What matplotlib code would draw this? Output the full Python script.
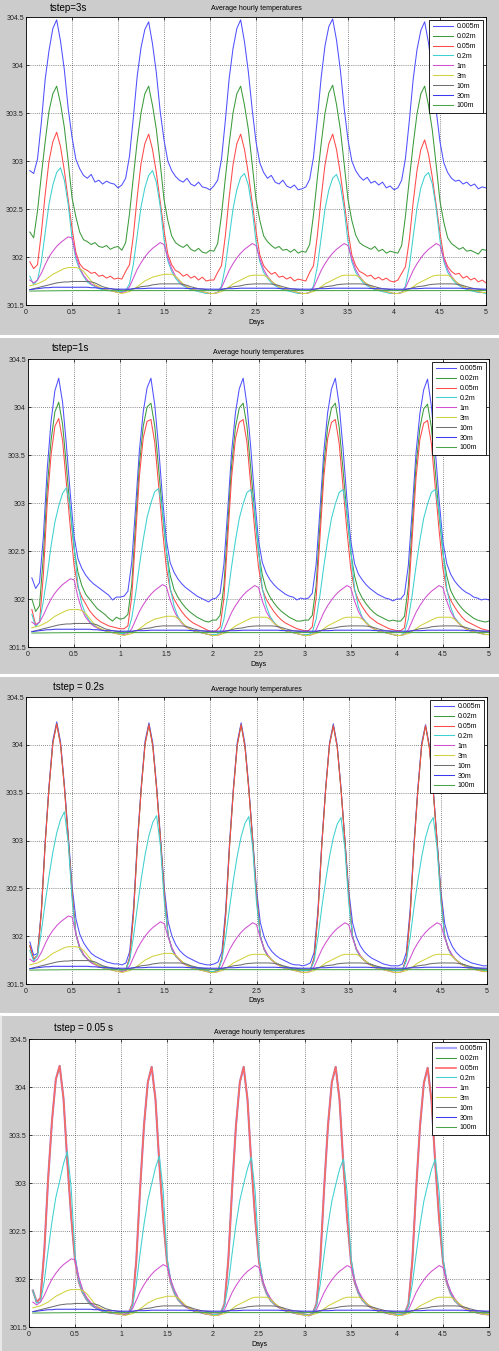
import numpy as np
import matplotlib
matplotlib.use("Agg")
import matplotlib.pyplot as plt
from matplotlib.lines import Line2D

# ===========================================
# DATA  (hourly averages, 5 days -> 120 samples, x = hour / 24)
# ===========================================
HOURS = np.arange(1, 121) / 24.0
DEPTHS = ["0.005m", "0.02m", "0.05m", "0.2m", "1m", "3m", "10m", "30m", "100m"]
X_TICKS = [0, 0.5, 1, 1.5, 2, 2.5, 3, 3.5, 4, 4.5, 5]
X_TICK_LABELS = ["0", "0.5", "1", "1.5", "2", "2.5", "3", "3.5", "4", "4.5", "5"]
Y_TICKS = [301.5, 302, 302.5, 303, 303.5, 304, 304.5]
Y_TICK_LABELS = ["301.5", "302", "302.5", "303", "303.5", "304", "304.5"]
STEP_LABELS = ["tstep=3s", "tstep=1s", "tstep = 0.2s", "tstep = 0.05 s"]
TITLE = "Average hourly temperatures"
X_LABEL = "Days"

# --- tstep = 3 s ---
T3S_D005 = [
    302.90, 302.87, 303.02, 303.40, 303.85, 304.15, 304.38, 304.47, 304.25, 303.95, 303.55, 303.25, 303.02, 302.92, 302.85, 302.82, 302.86, 302.78, 302.80, 302.76, 302.79, 302.77, 302.76, 302.72,
    302.75, 302.82, 303.05, 303.45, 303.88, 304.18, 304.37, 304.45, 304.22, 303.92, 303.52, 303.22, 303.00, 302.90, 302.84, 302.80, 302.78, 302.82, 302.76, 302.74, 302.78, 302.73, 302.72, 302.70,
    302.74, 302.80, 303.02, 303.42, 303.86, 304.17, 304.38, 304.47, 304.24, 303.93, 303.54, 303.20, 302.98, 302.88, 302.82, 302.85, 302.78, 302.76, 302.80, 302.74, 302.72, 302.75, 302.70, 302.71,
    302.73, 302.81, 303.04, 303.44, 303.87, 304.20, 304.40, 304.48, 304.26, 303.95, 303.55, 303.22, 303.00, 302.90, 302.84, 302.80, 302.83, 302.77, 302.79, 302.75, 302.78, 302.72, 302.74, 302.70,
    302.72, 302.80, 303.03, 303.42, 303.85, 304.16, 304.36, 304.45, 304.23, 303.93, 303.53, 303.20, 302.98, 302.88, 302.82, 302.79, 302.80, 302.76, 302.78, 302.74, 302.76, 302.71, 302.73, 302.72,
]
T3S_D02 = [
    302.26, 302.20, 302.48, 302.85, 303.20, 303.52, 303.70, 303.78, 303.60, 303.35, 303.00, 302.62, 302.42, 302.26, 302.18, 302.16, 302.13, 302.15, 302.11, 302.10, 302.12, 302.08, 302.10, 302.11,
    302.07, 302.15, 302.45, 302.83, 303.20, 303.50, 303.70, 303.78, 303.58, 303.33, 302.98, 302.60, 302.38, 302.22, 302.15, 302.12, 302.10, 302.13, 302.08, 302.06, 302.09, 302.05, 302.04, 302.07,
    302.06, 302.14, 302.44, 302.82, 303.18, 303.50, 303.70, 303.78, 303.58, 303.33, 302.97, 302.60, 302.38, 302.22, 302.16, 302.12, 302.09, 302.11, 302.07, 302.08, 302.05, 302.08, 302.04, 302.06,
    302.05, 302.13, 302.44, 302.82, 303.18, 303.50, 303.71, 303.79, 303.59, 303.33, 302.97, 302.60, 302.38, 302.23, 302.15, 302.12, 302.10, 302.08, 302.11, 302.06, 302.08, 302.04, 302.06, 302.05,
    302.04, 302.12, 302.43, 302.81, 303.17, 303.49, 303.70, 303.78, 303.58, 303.32, 302.96, 302.58, 302.36, 302.20, 302.14, 302.11, 302.08, 302.10, 302.06, 302.07, 302.05, 302.03, 302.08, 302.07,
]
T3S_D05 = [
    301.95, 301.88, 301.92, 302.25, 302.65, 303.00, 303.20, 303.30, 303.15, 302.90, 302.60, 302.30, 302.05, 301.93, 301.88, 301.86, 301.83, 301.84, 301.80, 301.81, 301.78, 301.80, 301.77, 301.78,
    301.77, 301.85, 301.92, 302.22, 302.62, 302.97, 303.18, 303.28, 303.12, 302.88, 302.58, 302.28, 302.03, 301.92, 301.86, 301.84, 301.80, 301.82, 301.78, 301.80, 301.76, 301.79, 301.75, 301.76,
    301.76, 301.84, 301.91, 302.22, 302.62, 302.96, 303.18, 303.28, 303.12, 302.87, 302.57, 302.27, 302.02, 301.91, 301.86, 301.82, 301.84, 301.79, 301.80, 301.77, 301.79, 301.75, 301.77, 301.76,
    301.75, 301.84, 301.91, 302.22, 302.62, 302.96, 303.18, 303.28, 303.12, 302.87, 302.57, 302.27, 302.02, 301.91, 301.85, 301.83, 301.80, 301.81, 301.77, 301.79, 301.76, 301.78, 301.75, 301.74,
    301.76, 301.83, 301.90, 302.18, 302.57, 302.90, 303.12, 303.22, 303.07, 302.83, 302.54, 302.25, 302.00, 301.90, 301.85, 301.82, 301.83, 301.78, 301.80, 301.76, 301.78, 301.74, 301.76, 301.73,
]
T3S_D2 = [
    301.80, 301.71, 301.76, 301.95, 302.25, 302.55, 302.75, 302.88, 302.93, 302.80, 302.55, 302.20, 301.98, 301.87, 301.80, 301.74, 301.71, 301.69, 301.67, 301.66, 301.65, 301.65, 301.64, 301.64,
    301.64, 301.65, 301.72, 301.92, 302.22, 302.52, 302.72, 302.85, 302.90, 302.78, 302.53, 302.18, 301.96, 301.85, 301.78, 301.73, 301.70, 301.68, 301.66, 301.65, 301.64, 301.63, 301.62, 301.62,
    301.62, 301.63, 301.70, 301.90, 302.20, 302.50, 302.70, 302.83, 302.87, 302.75, 302.50, 302.16, 301.95, 301.84, 301.78, 301.73, 301.70, 301.68, 301.66, 301.65, 301.64, 301.63, 301.62, 301.62,
    301.62, 301.63, 301.70, 301.90, 302.20, 302.50, 302.70, 302.82, 302.86, 302.75, 302.50, 302.16, 301.95, 301.84, 301.78, 301.73, 301.70, 301.68, 301.66, 301.65, 301.64, 301.63, 301.62, 301.62,
    301.62, 301.63, 301.70, 301.90, 302.21, 302.51, 302.72, 302.84, 302.88, 302.76, 302.51, 302.17, 301.95, 301.84, 301.78, 301.73, 301.70, 301.68, 301.66, 301.65, 301.64, 301.63, 301.63, 301.62,
]

# --- tstep = 1 s ---
T1S_D005 = [
    302.22, 302.11, 302.17, 302.65, 303.35, 303.85, 304.17, 304.30, 304.05, 303.60, 303.10, 302.65, 302.42, 302.32, 302.25, 302.20, 302.16, 302.13, 302.10, 302.07, 302.04, 301.99, 302.02, 302.02,
    302.03, 302.08, 302.38, 302.95, 303.55, 303.95, 304.20, 304.30, 304.02, 303.58, 303.06, 302.62, 302.38, 302.28, 302.21, 302.16, 302.12, 302.09, 302.06, 302.03, 302.01, 301.99, 301.97, 302.00,
    302.01, 302.06, 302.36, 302.93, 303.53, 303.94, 304.19, 304.30, 304.02, 303.57, 303.05, 302.61, 302.38, 302.27, 302.20, 302.15, 302.11, 302.08, 302.05, 302.03, 302.02, 301.99, 302.01, 302.00,
    302.01, 302.06, 302.36, 302.93, 303.53, 303.94, 304.19, 304.30, 304.02, 303.57, 303.05, 302.61, 302.37, 302.26, 302.20, 302.15, 302.11, 302.08, 302.05, 302.03, 302.01, 302.00, 301.98, 302.00,
    302.00, 302.05, 302.35, 302.92, 303.52, 303.93, 304.18, 304.29, 304.01, 303.56, 303.04, 302.60, 302.37, 302.26, 302.19, 302.14, 302.10, 302.07, 302.05, 302.02, 302.01, 301.99, 302.00, 301.99,
]
T1S_D02 = [
    302.00, 301.87, 301.93, 302.45, 303.15, 303.65, 303.95, 304.05, 303.82, 303.38, 302.92, 302.52, 302.28, 302.14, 302.05, 302.00, 301.95, 301.90, 301.87, 301.84, 301.80, 301.77, 301.81, 301.79,
    301.80, 301.84, 302.15, 302.78, 303.40, 303.80, 304.00, 304.04, 303.80, 303.36, 302.90, 302.50, 302.25, 302.10, 302.02, 301.96, 301.91, 301.87, 301.84, 301.81, 301.79, 301.77, 301.76, 301.78,
    301.78, 301.83, 302.14, 302.77, 303.39, 303.79, 303.99, 304.04, 303.80, 303.35, 302.89, 302.49, 302.25, 302.10, 302.02, 301.96, 301.91, 301.87, 301.84, 301.81, 301.79, 301.77, 301.77, 301.78,
    301.78, 301.83, 302.14, 302.77, 303.39, 303.79, 303.99, 304.04, 303.79, 303.35, 302.89, 302.49, 302.24, 302.09, 302.01, 301.95, 301.90, 301.86, 301.83, 301.81, 301.79, 301.77, 301.78, 301.77,
    301.77, 301.82, 302.13, 302.76, 303.38, 303.78, 303.98, 304.03, 303.79, 303.34, 302.88, 302.48, 302.24, 302.09, 302.01, 301.95, 301.90, 301.86, 301.83, 301.80, 301.78, 301.77, 301.76, 301.77,
]
T1S_D05 = [
    301.89, 301.73, 301.76, 302.25, 303.00, 303.50, 303.80, 303.88, 303.65, 303.20, 302.75, 302.35, 302.12, 302.02, 301.95, 301.88, 301.83, 301.79, 301.76, 301.74, 301.72, 301.71, 301.70, 301.69,
    301.69, 301.72, 302.02, 302.65, 303.28, 303.68, 303.85, 303.87, 303.63, 303.18, 302.73, 302.33, 302.10, 302.00, 301.93, 301.87, 301.82, 301.78, 301.75, 301.73, 301.71, 301.69, 301.67, 301.66,
    301.67, 301.71, 302.01, 302.64, 303.27, 303.67, 303.84, 303.87, 303.63, 303.18, 302.73, 302.33, 302.10, 302.00, 301.93, 301.87, 301.82, 301.78, 301.75, 301.73, 301.71, 301.69, 301.68, 301.67,
    301.67, 301.71, 302.01, 302.64, 303.27, 303.67, 303.84, 303.87, 303.62, 303.17, 302.72, 302.32, 302.09, 301.99, 301.92, 301.86, 301.81, 301.78, 301.75, 301.73, 301.71, 301.69, 301.68, 301.67,
    301.67, 301.70, 302.00, 302.63, 303.26, 303.66, 303.83, 303.86, 303.62, 303.17, 302.72, 302.32, 302.09, 301.99, 301.92, 301.86, 301.81, 301.77, 301.75, 301.73, 301.71, 301.69, 301.68, 301.67,
]
T1S_D2 = [
    301.84, 301.71, 301.76, 301.98, 302.25, 302.55, 302.80, 302.97, 303.10, 303.16, 302.95, 302.55, 302.15, 301.95, 301.84, 301.77, 301.73, 301.70, 301.68, 301.67, 301.66, 301.65, 301.645, 301.64,
    301.64, 301.66, 301.80, 302.05, 302.35, 302.62, 302.85, 303.00, 303.12, 303.15, 302.93, 302.52, 302.12, 301.93, 301.82, 301.76, 301.72, 301.69, 301.67, 301.66, 301.65, 301.64, 301.63, 301.63,
    301.63, 301.65, 301.79, 302.04, 302.34, 302.61, 302.84, 302.99, 303.11, 303.14, 302.92, 302.51, 302.11, 301.93, 301.82, 301.76, 301.72, 301.69, 301.67, 301.66, 301.65, 301.64, 301.63, 301.63,
    301.63, 301.65, 301.79, 302.04, 302.34, 302.61, 302.84, 302.99, 303.11, 303.14, 302.92, 302.51, 302.11, 301.92, 301.81, 301.76, 301.72, 301.69, 301.67, 301.66, 301.65, 301.64, 301.63, 301.62,
    301.62, 301.65, 301.79, 302.04, 302.34, 302.61, 302.84, 302.99, 303.11, 303.14, 302.92, 302.51, 302.11, 301.92, 301.81, 301.76, 301.72, 301.69, 301.67, 301.66, 301.65, 301.64, 301.63, 301.63,
]

# --- tstep = 0.2 s  (0.02m and 0.05m lie on top of each other) ---
T02S_D005 = [
    301.94, 301.80, 301.82, 302.28, 303.00, 303.58, 304.05, 304.24, 304.03, 303.58, 303.06, 302.52, 302.18, 302.02, 301.93, 301.87, 301.82, 301.79, 301.77, 301.75, 301.73, 301.72, 301.71, 301.71,
    301.70, 301.72, 301.84, 302.30, 303.00, 303.57, 304.04, 304.23, 304.02, 303.57, 303.04, 302.50, 302.15, 302.00, 301.91, 301.85, 301.81, 301.78, 301.76, 301.74, 301.72, 301.71, 301.70, 301.70,
    301.71, 301.73, 301.84, 302.29, 302.99, 303.56, 304.03, 304.23, 304.01, 303.56, 303.03, 302.49, 302.14, 301.99, 301.90, 301.84, 301.80, 301.77, 301.75, 301.73, 301.71, 301.70, 301.70, 301.69,
    301.70, 301.72, 301.83, 302.28, 302.98, 303.55, 304.02, 304.22, 304.00, 303.55, 303.02, 302.48, 302.14, 301.99, 301.90, 301.84, 301.80, 301.77, 301.75, 301.73, 301.71, 301.70, 301.69, 301.69,
    301.69, 301.71, 301.83, 302.28, 302.98, 303.55, 304.02, 304.21, 303.99, 303.54, 303.01, 302.47, 302.13, 301.98, 301.89, 301.83, 301.79, 301.76, 301.74, 301.72, 301.71, 301.70, 301.69, 301.69,
]
T02S_SURF = [
    301.90, 301.76, 301.80, 302.25, 302.97, 303.55, 304.02, 304.22, 304.00, 303.55, 303.02, 302.45, 302.02, 301.87, 301.80, 301.76, 301.73, 301.71, 301.69, 301.68, 301.67, 301.66, 301.655, 301.65,
    301.645, 301.65, 301.78, 302.24, 302.96, 303.54, 304.01, 304.21, 303.99, 303.54, 303.01, 302.44, 302.01, 301.86, 301.79, 301.75, 301.72, 301.70, 301.68, 301.67, 301.66, 301.65, 301.64, 301.63,
    301.63, 301.645, 301.77, 302.23, 302.95, 303.53, 304.00, 304.21, 303.98, 303.53, 303.00, 302.43, 302.00, 301.86, 301.79, 301.75, 301.72, 301.70, 301.68, 301.67, 301.66, 301.65, 301.645, 301.64,
    301.64, 301.645, 301.77, 302.23, 302.95, 303.53, 304.00, 304.20, 303.98, 303.53, 303.00, 302.43, 302.00, 301.86, 301.79, 301.75, 301.72, 301.70, 301.68, 301.67, 301.66, 301.65, 301.645, 301.64,
    301.64, 301.645, 301.77, 302.22, 302.94, 303.52, 303.99, 304.20, 303.97, 303.52, 302.99, 302.42, 302.00, 301.86, 301.79, 301.75, 301.72, 301.70, 301.68, 301.67, 301.66, 301.65, 301.645, 301.64,
]
T02S_D2 = [
    301.85, 301.74, 301.80, 302.05, 302.35, 302.63, 302.88, 303.08, 303.22, 303.30, 302.97, 302.38, 302.02, 301.87, 301.80, 301.76, 301.73, 301.71, 301.69, 301.68, 301.67, 301.66, 301.655, 301.65,
    301.645, 301.65, 301.75, 302.00, 302.31, 302.60, 302.85, 303.05, 303.19, 303.26, 302.94, 302.36, 302.01, 301.86, 301.79, 301.75, 301.72, 301.70, 301.68, 301.67, 301.66, 301.65, 301.64, 301.63,
    301.63, 301.645, 301.75, 302.00, 302.30, 302.59, 302.84, 303.04, 303.18, 303.25, 302.93, 302.35, 302.00, 301.86, 301.79, 301.75, 301.72, 301.70, 301.68, 301.67, 301.66, 301.65, 301.645, 301.64,
    301.64, 301.645, 301.74, 301.99, 302.30, 302.58, 302.83, 303.03, 303.17, 303.24, 302.92, 302.35, 302.00, 301.86, 301.79, 301.75, 301.72, 301.70, 301.68, 301.67, 301.66, 301.65, 301.645, 301.64,
    301.64, 301.645, 301.74, 301.99, 302.30, 302.58, 302.83, 303.03, 303.17, 303.24, 302.92, 302.35, 302.00, 301.86, 301.79, 301.75, 301.72, 301.70, 301.68, 301.67, 301.66, 301.65, 301.645, 301.64,
]

# --- tstep = 0.05 s  (0.005m, 0.02m and 0.05m lie on top of each other) ---
T005S_SURF = [
    301.88, 301.76, 301.80, 302.30, 303.05, 303.65, 304.08, 304.22, 303.88, 303.22, 302.65, 302.20, 301.97, 301.86, 301.79, 301.74, 301.71, 301.69, 301.67, 301.66, 301.65, 301.645, 301.64, 301.635,
    301.63, 301.64, 301.74, 302.20, 302.95, 303.60, 304.05, 304.21, 303.87, 303.20, 302.63, 302.18, 301.96, 301.85, 301.78, 301.74, 301.71, 301.69, 301.67, 301.66, 301.65, 301.64, 301.635, 301.63,
    301.63, 301.64, 301.74, 302.20, 302.95, 303.60, 304.05, 304.21, 303.87, 303.20, 302.63, 302.18, 301.96, 301.85, 301.78, 301.74, 301.71, 301.69, 301.67, 301.66, 301.65, 301.64, 301.635, 301.63,
    301.62, 301.64, 301.74, 302.20, 302.95, 303.60, 304.05, 304.21, 303.87, 303.20, 302.63, 302.18, 301.96, 301.85, 301.78, 301.74, 301.71, 301.69, 301.67, 301.66, 301.65, 301.64, 301.635, 301.63,
    301.63, 301.64, 301.74, 302.19, 302.94, 303.59, 304.04, 304.20, 303.86, 303.19, 302.62, 302.18, 301.96, 301.85, 301.78, 301.74, 301.71, 301.69, 301.67, 301.66, 301.65, 301.64, 301.635, 301.63,
]
T005S_D2 = [
    301.88, 301.75, 301.76, 301.98, 302.30, 302.60, 302.85, 303.02, 303.20, 303.33, 302.95, 302.25, 301.98, 301.86, 301.79, 301.74, 301.71, 301.69, 301.67, 301.66, 301.65, 301.645, 301.64, 301.635,
    301.63, 301.64, 301.72, 301.95, 302.27, 302.57, 302.82, 302.99, 303.16, 303.28, 302.92, 302.23, 301.97, 301.85, 301.78, 301.74, 301.71, 301.69, 301.67, 301.66, 301.65, 301.64, 301.635, 301.63,
    301.63, 301.64, 301.72, 301.95, 302.27, 302.57, 302.82, 302.99, 303.15, 303.27, 302.91, 302.23, 301.97, 301.85, 301.78, 301.74, 301.71, 301.69, 301.67, 301.66, 301.65, 301.64, 301.635, 301.63,
    301.62, 301.64, 301.72, 301.95, 302.26, 302.56, 302.81, 302.98, 303.14, 303.25, 302.90, 302.22, 301.97, 301.85, 301.78, 301.74, 301.71, 301.69, 301.67, 301.66, 301.65, 301.64, 301.635, 301.63,
    301.63, 301.64, 301.72, 301.95, 302.26, 302.56, 302.81, 302.98, 303.14, 303.25, 302.90, 302.22, 301.97, 301.85, 301.78, 301.74, 301.71, 301.69, 301.67, 301.66, 301.65, 301.64, 301.635, 301.63,
]

# --- deeper layers, practically the same in every run ---
D1M = [
    301.76, 301.73, 301.76, 301.83, 301.92, 302.00, 302.06, 302.11, 302.15, 302.18, 302.21, 302.20, 302.02, 301.89, 301.81, 301.76, 301.72, 301.70, 301.68, 301.67, 301.66, 301.65, 301.64, 301.63,
    301.63, 301.64, 301.69, 301.78, 301.87, 301.94, 302.00, 302.05, 302.09, 302.12, 302.15, 302.13, 301.99, 301.88, 301.80, 301.75, 301.71, 301.69, 301.67, 301.66, 301.65, 301.64, 301.63, 301.62,
    301.62, 301.63, 301.68, 301.77, 301.86, 301.93, 301.99, 302.04, 302.08, 302.11, 302.14, 302.12, 301.98, 301.87, 301.80, 301.75, 301.71, 301.69, 301.67, 301.66, 301.65, 301.64, 301.63, 301.62,
    301.62, 301.63, 301.68, 301.77, 301.86, 301.93, 301.99, 302.04, 302.08, 302.11, 302.14, 302.12, 301.98, 301.87, 301.80, 301.75, 301.71, 301.69, 301.67, 301.66, 301.65, 301.64, 301.63, 301.62,
    301.62, 301.63, 301.68, 301.77, 301.86, 301.93, 301.99, 302.04, 302.08, 302.11, 302.14, 302.12, 301.98, 301.87, 301.80, 301.75, 301.71, 301.69, 301.67, 301.66, 301.65, 301.64, 301.63, 301.63,
]
D3M = [
    301.70, 301.71, 301.72, 301.74, 301.76, 301.79, 301.82, 301.84, 301.86, 301.88, 301.89, 301.89, 301.89, 301.88, 301.85, 301.80, 301.75, 301.71, 301.69, 301.67, 301.66, 301.65, 301.64, 301.63,
    301.62, 301.63, 301.64, 301.66, 301.69, 301.72, 301.75, 301.77, 301.79, 301.80, 301.81, 301.82, 301.82, 301.82, 301.80, 301.76, 301.72, 301.69, 301.67, 301.66, 301.65, 301.64, 301.63, 301.62,
    301.62, 301.63, 301.64, 301.66, 301.69, 301.72, 301.74, 301.76, 301.78, 301.80, 301.81, 301.81, 301.81, 301.81, 301.79, 301.75, 301.72, 301.69, 301.67, 301.66, 301.65, 301.64, 301.63, 301.62,
    301.62, 301.63, 301.64, 301.66, 301.69, 301.72, 301.74, 301.76, 301.78, 301.80, 301.81, 301.81, 301.81, 301.81, 301.79, 301.75, 301.72, 301.69, 301.67, 301.66, 301.65, 301.64, 301.63, 301.62,
    301.62, 301.63, 301.64, 301.66, 301.69, 301.72, 301.74, 301.76, 301.78, 301.80, 301.81, 301.81, 301.81, 301.81, 301.79, 301.75, 301.72, 301.69, 301.67, 301.66, 301.65, 301.64, 301.63, 301.63,
]
D10M = [
    301.660, 301.670, 301.680, 301.690, 301.700, 301.710, 301.720, 301.730, 301.735, 301.740, 301.740, 301.745, 301.745, 301.745, 301.745, 301.745, 301.740, 301.730, 301.710, 301.690, 301.680, 301.670, 301.665, 301.660,
    301.655, 301.655, 301.660, 301.670, 301.680, 301.690, 301.695, 301.700, 301.710, 301.715, 301.720, 301.720, 301.720, 301.720, 301.720, 301.720, 301.715, 301.705, 301.690, 301.680, 301.670, 301.665, 301.660, 301.655,
    301.655, 301.655, 301.660, 301.670, 301.680, 301.690, 301.695, 301.700, 301.710, 301.715, 301.718, 301.720, 301.720, 301.720, 301.720, 301.718, 301.713, 301.703, 301.690, 301.680, 301.670, 301.665, 301.660, 301.655,
    301.655, 301.655, 301.660, 301.670, 301.680, 301.690, 301.695, 301.700, 301.710, 301.715, 301.718, 301.720, 301.720, 301.720, 301.720, 301.718, 301.713, 301.703, 301.690, 301.680, 301.670, 301.665, 301.660, 301.655,
    301.655, 301.655, 301.660, 301.670, 301.680, 301.690, 301.695, 301.700, 301.710, 301.715, 301.718, 301.720, 301.720, 301.720, 301.720, 301.718, 301.713, 301.703, 301.690, 301.680, 301.670, 301.665, 301.660, 301.655,
]
D30M = [
    301.660, 301.665, 301.670, 301.675, 301.680, 301.680, 301.685, 301.685, 301.685, 301.685, 301.685, 301.685, 301.685, 301.685, 301.685, 301.685, 301.680, 301.680, 301.675, 301.670, 301.670, 301.670, 301.665, 301.665,
    301.665, 301.665, 301.665, 301.670, 301.670, 301.670, 301.672, 301.675, 301.675, 301.675, 301.675, 301.675, 301.675, 301.675, 301.675, 301.675, 301.675, 301.672, 301.670, 301.670, 301.668, 301.667, 301.666, 301.665,
    301.665, 301.665, 301.665, 301.670, 301.670, 301.670, 301.672, 301.675, 301.675, 301.675, 301.675, 301.675, 301.675, 301.675, 301.675, 301.675, 301.675, 301.672, 301.670, 301.670, 301.668, 301.667, 301.666, 301.665,
    301.665, 301.665, 301.665, 301.670, 301.670, 301.670, 301.672, 301.675, 301.675, 301.675, 301.675, 301.675, 301.675, 301.675, 301.675, 301.675, 301.675, 301.672, 301.670, 301.670, 301.668, 301.667, 301.666, 301.665,
    301.665, 301.665, 301.665, 301.670, 301.670, 301.670, 301.672, 301.675, 301.675, 301.675, 301.675, 301.675, 301.675, 301.675, 301.675, 301.675, 301.675, 301.672, 301.670, 301.670, 301.668, 301.667, 301.666, 301.665,
]
D100M = [
    301.645, 301.646, 301.646, 301.647, 301.647, 301.648, 301.648, 301.648, 301.649, 301.649, 301.649, 301.650, 301.650, 301.650, 301.650, 301.650, 301.650, 301.650, 301.650, 301.650, 301.650, 301.650, 301.650, 301.650,
    301.650, 301.650, 301.650, 301.650, 301.650, 301.650, 301.650, 301.650, 301.650, 301.650, 301.650, 301.650, 301.650, 301.650, 301.650, 301.650, 301.650, 301.650, 301.650, 301.650, 301.650, 301.650, 301.650, 301.650,
    301.650, 301.650, 301.650, 301.650, 301.650, 301.650, 301.650, 301.650, 301.650, 301.650, 301.650, 301.650, 301.650, 301.650, 301.650, 301.650, 301.650, 301.650, 301.650, 301.650, 301.650, 301.650, 301.650, 301.650,
    301.650, 301.650, 301.650, 301.650, 301.650, 301.650, 301.650, 301.650, 301.650, 301.650, 301.650, 301.650, 301.650, 301.650, 301.650, 301.650, 301.650, 301.650, 301.650, 301.650, 301.650, 301.650, 301.650, 301.650,
    301.650, 301.650, 301.650, 301.650, 301.650, 301.650, 301.650, 301.650, 301.650, 301.650, 301.650, 301.650, 301.650, 301.650, 301.650, 301.650, 301.650, 301.650, 301.650, 301.650, 301.650, 301.650, 301.650, 301.650,
]

RUNS = [
    [T3S_D005, T3S_D02, T3S_D05, T3S_D2, D1M, D3M, D10M, D30M, D100M],
    [T1S_D005, T1S_D02, T1S_D05, T1S_D2, D1M, D3M, D10M, D30M, D100M],
    [T02S_D005, T02S_SURF, T02S_SURF, T02S_D2, D1M, D3M, D10M, D30M, D100M],
    [T005S_SURF, T005S_SURF, T005S_SURF, T005S_D2, D1M, D3M, D10M, D30M, D100M],
]

# ===========================================
# LAYOUT (pixel boxes of the 4 matlab windows: left, top, right, bottom)
# ===========================================
W, H = 499, 1351
AX_BOXES = [(26, 17, 486, 305), (28, 359, 489, 647), (26, 697, 487, 984), (29, 1039, 489, 1327)]
STEP_POS = [(50, 8), (52, 348), (53, 687), (54, 1028)]
TITLE_Y = [9, 352, 689, 1032]
SEPARATORS = [336, 675, 1014]

LINE_COLORS = ["#5050ff", "#3c9b3c", "#ff4a4a", "#3fd0d0", "#d050d0",
               "#d2d240", "#707070", "#3a3aee", "#4aa54a"]
FONT = "Liberation Sans"


def fx(px):
    return px / W


def fy(py):
    return 1 - py / H


def main():
    plt.rcParams["font.family"] = [FONT, "DejaVu Sans"]
    fig = plt.figure(figsize=(W / 100, H / 100), dpi=100, facecolor="#cccccc")

    # white gaps between the stacked screenshots
    for sy in SEPARATORS:
        fig.add_artist(Line2D([0, 1], [fy(sy), fy(sy)], color="white", lw=2.2))
    fig.add_artist(Line2D([fx(0.6), fx(0.6)], [fy(1016), 0], color="#eeeeee", lw=1.2))

    for i, (l, t, r, b) in enumerate(AX_BOXES):
        ax = fig.add_axes([fx(l), fy(b), (r - l) / W, (b - t) / H])
        ax.set_facecolor("white")

        widths = [0.75] * 9
        colors = list(LINE_COLORS)
        if i == 3:
            colors[0] = "#a8a8ff"
            widths[0] = 1.6
            colors[2] = "#ff6868"
            widths[2] = 1.2
        for series, lab, c, lw in zip(RUNS[i], DEPTHS, colors, widths):
            ax.plot(HOURS, series, color=c, lw=lw, label=lab)

        ax.set_xlim(0, 5)
        ax.set_ylim(301.5, 304.5)
        ax.set_xticks(X_TICKS)
        ax.set_xticklabels(X_TICK_LABELS)
        ax.set_yticks(Y_TICKS)
        ax.set_yticklabels(Y_TICK_LABELS)
        ax.tick_params(direction="in", length=2.5, width=0.5, labelsize=5,
                       top=True, right=True, pad=1.5, colors="black", labelcolor="#222222")
        ax.tick_params(axis="x", pad=2.6)
        ax.grid(True, color="#222222", lw=0.5, linestyle=(0, (1, 2)))
        for sp in ax.spines.values():
            sp.set_linewidth(0.6)

        leg = ax.legend(loc="upper right", bbox_to_anchor=(1 - 3 / (r - l), 1 - 3 / (b - t)),
                        borderaxespad=0, fontsize=5, handlelength=3.0, handletextpad=0.45,
                        labelspacing=0.42, borderpad=0.45, fancybox=False, framealpha=1)
        leg.get_frame().set_edgecolor("black")
        leg.get_frame().set_linewidth(0.6)

        # texts
        fig.text(fx(STEP_POS[i][0]), fy(STEP_POS[i][1]), STEP_LABELS[i],
                 fontsize=7, ha="left", va="center")
        fig.text(fx((l + r) / 2), fy(TITLE_Y[i]), TITLE, fontsize=5, ha="center", va="center")
        fig.text(fx((l + r) / 2), fy(b + 17), X_LABEL, fontsize=5, ha="center", va="center")

    fig.savefig("out.png", dpi=100, facecolor=fig.get_facecolor())


if __name__ == "__main__":
    main()
